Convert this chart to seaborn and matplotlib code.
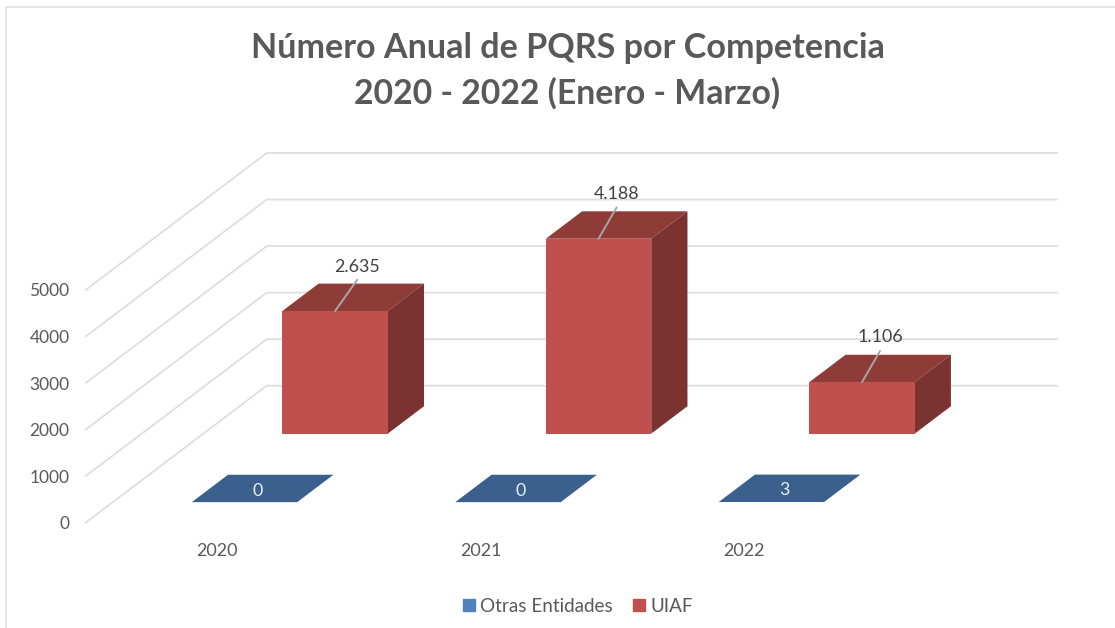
import matplotlib
matplotlib.use("Agg")
import matplotlib.pyplot as plt
from matplotlib.lines import Line2D
from matplotlib.colors import to_rgb
import pandas as pd
import seaborn as sns

title = "Número Anual de PQRS por Competencia\n2020 - 2022 (Enero - Marzo)"
years = ["2020", "2021", "2022"]
otras_entidades = [0, 0, 3]
uiaf = [2635, 4188, 1106]
series_names = ["Otras Entidades", "UIAF"]
series_colors = ["#4F81BD", "#C0504D"]
y_ticks = [0, 1000, 2000, 3000, 4000, 5000]

W, H = 1115, 628
TEXT = "#595959"
GRID = "#DEDEDE"
BAR_WIDTH = 0.4
# Oblique projection of the chart's depth: a full depth step in data units
DEPTH_X, DEPTH_Y = 0.6875, 2944
ROW_START = {"Otras Entidades": 0.15, "UIAF": 0.65}
ROW_DEPTH = 0.2

sns.set_theme(style="white")
plt.rcParams["font.family"] = ["Lato", "DejaVu Sans"]

df = pd.DataFrame({
    "year": years * 2,
    "value": otras_entidades + uiaf,
    "series": [series_names[0]] * 3 + [series_names[1]] * 3,
})

fig = plt.figure(figsize=(W / 100, H / 100), dpi=100, facecolor="white")
ax = fig.add_axes([85.6 / W, (H - 522.7) / H, 790.4 / W, 232.7 / H], facecolor="none")

sns.barplot(data=df, x="year", y="value", hue="series", hue_order=series_names,
            palette=series_colors, dodge=False, width=BAR_WIDTH, legend=False,
            saturation=1, linewidth=0, ax=ax, zorder=4)
ax.set_xlim(-0.5, 2.5)
ax.set_ylim(0, 5000)
ax.set_xlabel("")
ax.set_ylabel("")
ax.set_yticks(y_ticks)
sns.despine(ax=ax, left=True, bottom=True)
ax.tick_params(axis="y", length=0, pad=11.5, labelsize=12.5, labelcolor=TEXT)
ax.tick_params(axis="x", length=0, pad=14.5, labelsize=13, labelcolor=TEXT)


def project(x, v, d):
    return x + d * DEPTH_X, v + d * DEPTH_Y


# Walls: diagonal and back gridlines
for t in y_ticks:
    x0, y0 = project(-0.5, t, 0)
    x1, y1 = project(-0.5, t, 1)
    x2, y2 = project(2.5, t, 1)
    ax.plot([x0, x1, x2], [y0, y1, y2], color=GRID, lw=1.3, clip_on=False,
            zorder=1, solid_joinstyle="miter")


def shade(color, f):
    return tuple(c * f for c in to_rgb(color))


# Extrude seaborn's bars onto their depth rows
for name, color, container in zip(series_names, series_colors, ax.containers):
    d0 = ROW_START[name]
    d1 = d0 + ROW_DEPTH
    for patch in container:
        xl = patch.get_x()
        w = patch.get_width()
        v = patch.get_height()
        px, py = project(xl, 0, d0)
        patch.set_xy((px, py))
        patch.set_clip_on(False)
        xr = xl + w
        corners = [project(xl, v, d0), project(xl, v, d1), project(xr, v, d1), project(xr, v, d0)]
        ax.fill(*zip(*corners), color=shade(color, 0.745), lw=0, clip_on=False, zorder=3)
        side = [project(xr, 0, d0), project(xr, v, d0), project(xr, v, d1), project(xr, 0, d1)]
        if v > 50:
            ax.fill(*zip(*side), color=shade(color, 0.635), lw=0, clip_on=False, zorder=3)

# UIAF labels with leader lines
for i, v in enumerate(uiaf):
    x, y = project(i, v, ROW_START["UIAF"])
    dx = 16 if i == 0 else 13
    dy = 31.5 if i == 0 else 32.5
    ax.annotate("", xy=(x, y), xytext=(dx, 22.5), textcoords="offset points",
                arrowprops=dict(arrowstyle="-", color="#A6A6A6", lw=1.4, shrinkA=0, shrinkB=0),
                zorder=6, annotation_clip=False)
    ax.annotate(f"{v:,}".replace(",", "."), xy=(x, y), xytext=(dx, dy),
                textcoords="offset points", ha="center", va="center",
                fontsize=12.8, color="#404040", zorder=6, annotation_clip=False)

# Otras Entidades labels on the flat tiles
for i, v in enumerate(otras_entidades):
    x, y = project(i, v, ROW_START["Otras Entidades"] + ROW_DEPTH / 2)
    ax.annotate(str(v), xy=(x, y), xytext=(-3.6, -1.5), textcoords="offset points",
                ha="center", va="center", fontsize=12.8, color="#EAF0F7", zorder=6,
                annotation_clip=False)

# Title
fig.text(567.5 / W, 1 - 48.5 / H, title.split("\n")[0], ha="center", va="center",
         fontsize=24.6, fontweight="bold", color=TEXT)
fig.text(567 / W, 1 - 93.5 / H, title.split("\n")[1], ha="center", va="center",
         fontsize=24.3, fontweight="bold", color=TEXT)

# Legend
handles = [Line2D([], [], ls="", marker="s", markersize=9, color=c) for c in series_colors]
fig.legend(handles, series_names, loc="center", bbox_to_anchor=(576 / W, 1 - 606 / H), ncol=2,
           frameon=False, fontsize=13.6, labelcolor=TEXT, handlelength=1, handletextpad=0.08,
           columnspacing=0.93, borderpad=0)

# Picture frame
for xs, ys in [([6, 6], [7, H]), ([6, W], [7, 7])]:
    fig.add_artist(Line2D([x / W for x in xs], [1 - y / H for y in ys], color="#E2E2E2", lw=1.2))

fig.savefig("out.png", dpi=100, facecolor="white")
